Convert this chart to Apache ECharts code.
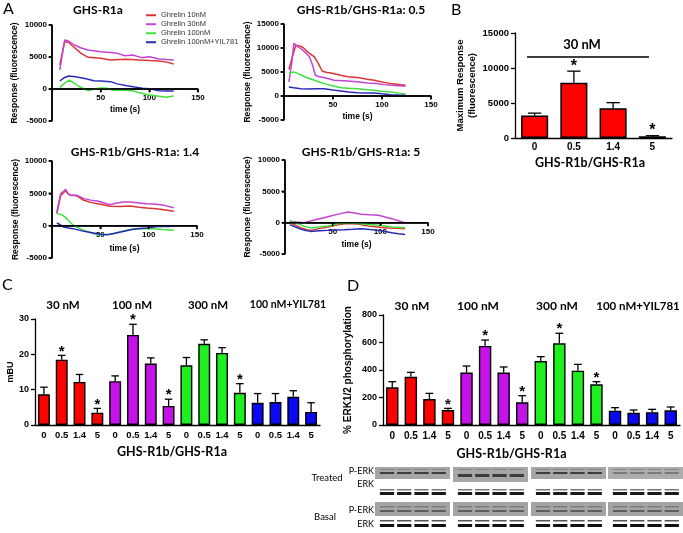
<!DOCTYPE html>
<html><head><meta charset="utf-8">
<script src="https://cdn.jsdelivr.net/npm/echarts@6/dist/echarts.min.js"></script>
<style>html,body{margin:0;padding:0;background:#fff}#c{width:683px;height:533px}</style>
</head><body><div id="c"></div>
<script>
// ---------- Panel A: time courses [time (s), response] ----------
const lineNames = ['Ghrelin 10nM','Ghrelin 30nM','Ghrelin 100nM','Ghrelin 100nM+YIL781'];
const panelTitles = ['GHS-R1a','GHS-R1b/GHS-R1a: 0.5','GHS-R1b/GHS-R1a: 1.4','GHS-R1b/GHS-R1a: 5'];
const timeTicks = [0,50,100,150];
const aYTicks = [[-5000,0,5000,10000],[-5000,0,5000,10000,15000],[-5000,0,5000,10000],[-5000,0,5000,10000]];

const a1Red = [[8,3750],[13,7400],[17,7300],[22,6600],[30,5570],[37,4950],[50,4800],[60,4530],[70,4600],[77,4640],[90,4530],[100,4450],[107,4430],[118,4200],[125,3900]];
const a1Mag = [[8,2970],[13,7650],[17,7500],[23,6875],[30,6400],[37,6100],[50,5830],[60,5700],[67,5570],[75,5200],[83,5300],[92,4900],[100,5050],[110,4700],[118,4600],[125,4530]];
const a1Grn = [[8,260],[13,900],[18,1400],[22,1000],[27,470],[32,100],[37,-260],[42,-100],[47,100],[52,150],[57,100],[62,-200],[67,-150],[75,-200],[83,-260],[90,-600],[100,-940],[108,-1100],[117,-1300],[125,-1100]];
const a1Blu = [[8,1250],[13,1800],[17,2030],[22,1950],[27,1820],[35,1600],[43,1300],[50,1250],[60,1150],[67,800],[77,520],[85,300],[93,100],[100,50],[110,-260],[118,-300],[125,-310]];

const a2Red = [[5,5510],[9,8500],[12,10600],[17,10390],[20,10000],[24,9200],[31,8160],[35,6800],[39,5160],[44,4900],[48,4810],[58,4320],[65,4000],[75,3840],[85,3500],[92,3280],[100,2900],[109,2580],[117,2400],[124,2230]];
const a2Mag = [[5,2930],[8,7000],[10,10950],[14,10300],[17,9900],[22,9000],[26,8160],[29,6500],[32,4320],[36,4000],[41,3840],[51,3280],[60,3200],[68,3070],[77,2900],[85,2720],[94,2600],[102,2370],[113,2200],[124,2020]];
const a2Grn = [[5,4670],[10,5020],[15,4600],[20,4110],[25,3700],[31,3280],[36,2900],[41,2580],[50,2100],[58,1740],[66,1600],[75,1530],[85,1300],[92,1190],[100,1000],[109,840],[117,600],[124,350]];
const a2Blu = [[5,1880],[10,1700],[17,1530],[25,1450],[33,1500],[41,1530],[50,1250],[58,1050],[66,850],[75,700],[85,650],[92,630],[100,450],[109,280],[117,200],[124,140]];

const a3Red = [[5,1860],[9,4690],[12,5100],[14,5460],[16,5000],[19,4690],[23,4650],[26,4590],[30,4200],[33,3920],[40,3600],[47,3400],[54,3200],[60,2990],[70,2950],[81,3040],[90,2850],[98,2730],[108,2600],[116,2470],[126,2220]];
const a3Mag = [[5,2110],[9,4950],[12,5300],[14,5620],[16,5100],[19,4690],[26,4690],[33,4180],[40,3950],[47,3810],[54,3500],[60,3250],[67,3500],[74,3660],[81,3650],[88,3560],[98,3400],[108,3300],[116,3140],[126,2780]];
const a3Grn = [[5,1860],[10,1700],[13,1400],[16,980],[19,500],[22,50],[27,-300],[33,-720],[40,-1100],[47,-1390],[54,-1350],[60,-1340],[67,-1100],[74,-820],[81,-600],[88,-460],[98,-450],[105,-460],[115,-600],[126,-720]];
const a3Blu = [[5,410],[9,100],[12,-210],[17,-350],[22,-460],[27,-650],[33,-880],[40,-1050],[47,-1240],[52,-1350],[57,-1390],[64,-1200],[71,-980],[78,-750],[84,-570],[91,-450],[98,-360],[105,-200],[112,-100],[120,-120],[126,-100]];

const a4Red = [[5,0],[11,-400],[17,-860],[22,-1100],[27,-1230],[36,-950],[45,-700],[53,-400],[62,-160],[69,-180],[76,-210],[83,-400],[90,-590],[99,-750],[108,-860],[117,-900],[126,-960]];
const a4Mag = [[5,210],[12,100],[20,0],[27,250],[34,530],[41,800],[48,1070],[57,1400],[66,1710],[73,1550],[80,1340],[89,1250],[98,1180],[105,900],[112,640],[119,300],[126,0]];
const a4Grn = [[5,320],[13,-160],[20,-550],[27,-860],[36,-700],[45,-530],[53,-250],[62,0],[71,-80],[80,-160],[89,-300],[98,-430],[105,-550],[112,-700],[126,-800]];
const a4Blu = [[5,-320],[11,-700],[17,-1070],[22,-1250],[27,-1390],[36,-1300],[45,-1230],[53,-1170],[62,-1120],[71,-1050],[80,-960],[89,-1100],[98,-1230],[105,-1400],[112,-1600],[119,-1750],[126,-1870]];

// ---------- Panel B ----------
const bCats = ['0','0.5','1.4','5'];
const bVals = [3200, 7900, 4250, 250];
const bErr  = [350, 1650, 800, 80];
const bSig  = [0, 1, 0, 1];

// ---------- Panels C and D ----------
const groups = ['30 nM','100 nM','300 nM','100 nM+YIL781'];
const ratios = ['0','0.5','1.4','5'];
const cVals = [8.7,18.5,12.2,3.5, 12.4,25.5,17.4,5.4, 16.9,23.0,20.4,9.1, 6.3,6.5,8.0,3.7];
const cErr  = [2.0,1.2,2.1,1.2, 1.5,3.0,1.6,1.9, 2.2,1.1,1.5,2.6, 2.6,2.4,1.7,2.6];
const cSig  = [0,1,0,1, 0,1,0,1, 0,0,0,1, 0,0,0,0];
const dVals = [274,351,189,109, 381,575,381,165, 465,594,395,296, 104,89,93,107];
const dErr  = [41,32,41,12, 48,43,41,48, 32,73,46,19, 22,20,21,24];
const dSig  = [0,0,0,1, 0,1,0,1, 0,1,0,1, 0,0,0,0];

// ---------- styles ----------
const lineColors = ['#dc3434','#c444d0','#3ee03e','#2a2ab8'];
const groupColors = ['#ff0000','#c412e8','#1fee1f','#0a0af0'];
const AR = 'Arial, "Liberation Sans", sans-serif';
const LT = 'Lato, "Open Sans", sans-serif';
const plain = v => String(v);

const chart = echarts.init(document.getElementById('c'), null, {renderer:'canvas'});

const gridsPx = [
  {left:52, top:25, width:146, height:96},
  {left:284, top:24, width:147, height:96},
  {left:52, top:161, width:145, height:97},
  {left:285, top:160, width:143, height:94},
  {left:515, top:33, width:157, height:105},
  {left:35, top:319, width:285, height:106},
  {left:383, top:315, width:297, height:110}
];
const grid = gridsPx.map(g => Object.assign({outerBoundsMode:'none', containLabel:false}, g));

const xAxis = [], yAxis = [], series = [];
const panelsA = [[a1Red,a1Mag,a1Grn,a1Blu],[a2Red,a2Mag,a2Grn,a2Blu],[a3Red,a3Mag,a3Grn,a3Blu],[a4Red,a4Mag,a4Grn,a4Blu]];
const yGapA = [33,32,32,33], xGapA = [16,16,18,17];

for (let p = 0; p < 4; p++) {
  const yt = aYTicks[p];
  const yMin = yt[0], yMax = yt[yt.length - 1];
  const tMin = timeTicks[0], tMax = timeTicks[timeTicks.length - 1];
  const zeroOffset = -gridsPx[p].height * (0 - yMin) / (yMax - yMin);
  xAxis.push({type:'value', gridIndex:p, position:'bottom', offset:zeroOffset,
    min:tMin, max:tMax, interval:50,
    axisLine:{show:true, onZero:false, lineStyle:{color:'#000', width:1.5}},
    axisTick:{show:true, length:3, lineStyle:{color:'#000', width:1.5}}, splitLine:{show:false},
    axisLabel:{margin:5, color:'#000', fontSize:8, fontWeight:'bold', fontFamily:AR, formatter:v => v === 0 ? '' : String(v)},
    name:'time (s)', nameLocation:'middle', nameGap:xGapA[p],
    nameTextStyle:{color:'#000', fontSize:8.5, fontWeight:'bold', fontFamily:AR}});
  yAxis.push({type:'value', gridIndex:p, min:yMin, max:yMax, interval:5000,
    axisLine:{show:true, onZero:false, lineStyle:{color:'#000', width:1.5}},
    axisTick:{show:true, length:3, lineStyle:{color:'#000', width:1.5}}, splitLine:{show:false},
    axisLabel:{margin:5, color:'#000', fontSize:8, fontWeight:'bold', fontFamily:AR, formatter:plain},
    name:'Response (fluorescence)', nameLocation:'middle', nameGap:yGapA[p], nameRotate:90,
    nameTextStyle:{color:'#000', fontSize:8.5, fontWeight:'bold', fontFamily:AR}});
  series.push({type:'line', xAxisIndex:p, yAxisIndex:p, data:[[tMin, yMax],[tMin, yMin]],
    showSymbol:false, symbol:'none', lineStyle:{color:'#000', width:1.5}, z:4, animation:false, silent:true, clip:false});
  series.push({type:'line', xAxisIndex:p, yAxisIndex:p, data:[[tMin, 0],[tMax, 0]],
    showSymbol:false, symbol:'none', lineStyle:{color:'#000', width:1.5}, z:4, animation:false, silent:true, clip:false});
  panelsA[p].forEach((d, k) => {
    series.push({type:'line', name:lineNames[k], xAxisIndex:p, yAxisIndex:p, data:d,
      showSymbol:false, symbol:'none', lineStyle:{color:lineColors[k], width:1.5}, itemStyle:{color:lineColors[k]},
      z:3, animation:false, silent:true});
  });
}

function errBars(capFrac, starSize, starGap) {
  return function (params, api) {
    const i = api.value(0), v = api.value(1), e = api.value(2), s = api.value(3);
    const p0 = api.coord([i, v]), p1 = api.coord([i, v + e]);
    const half = api.size([1, 0])[0] * capFrac / 2;
    const ch = [
      {type:'line', shape:{x1:p0[0], y1:p0[1], x2:p1[0], y2:p1[1]}, style:{stroke:'#000', lineWidth:1.3}},
      {type:'line', shape:{x1:p1[0]-half, y1:p1[1], x2:p1[0]+half, y2:p1[1]}, style:{stroke:'#000', lineWidth:1.3}}
    ];
    if (s) ch.push({type:'text', style:{text:'*', x:p1[0], y:p1[1]-starGap, align:'center', verticalAlign:'middle',
      font:'bold ' + starSize + 'px Arial', fill:'#000'}});
    return {type:'group', children:ch};
  };
}

// Panel B
xAxis.push({type:'category', gridIndex:4, data:bCats,
  axisLine:{show:true, lineStyle:{color:'#000', width:1.3}}, axisTick:{show:false},
  axisLabel:{margin:4, color:'#000', fontSize:10, fontWeight:'bold', fontFamily:AR},
  name:'GHS-R1b/GHS-R1a', nameLocation:'middle', nameGap:18,
  nameTextStyle:{color:'#000', fontSize:12.5, fontWeight:'bold', fontFamily:LT, padding:[0,7,0,0]}});
yAxis.push({type:'value', gridIndex:4, min:0, max:15000, interval:5000,
  axisLine:{show:true, lineStyle:{color:'#000', width:1.3}}, axisTick:{show:true, length:4, lineStyle:{color:'#000', width:1.3}},
  splitLine:{show:false},
  axisLabel:{margin:6, color:'#000', fontSize:9.5, fontWeight:'bold', fontFamily:AR, formatter:plain},
  name:'Maximum Response\n(fluorescence)', nameLocation:'middle', nameGap:35, nameRotate:90,
  nameTextStyle:{color:'#000', fontSize:9.5, fontWeight:'bold', fontFamily:AR, lineHeight:12}});
series.push({type:'bar', xAxisIndex:4, yAxisIndex:4, barWidth:'69%', data:bVals,
  itemStyle:{color:groupColors[0], borderColor:'#000', borderWidth:1.5}, animation:false, silent:true, z:2});
series.push({type:'custom', xAxisIndex:4, yAxisIndex:4, renderItem:errBars(0.34, 16, 5),
  data:bVals.map((v,i)=>[i, v, bErr[i], bSig[i]]), encode:{x:0, y:1}, z:5, animation:false, silent:true});

// Panels C and D
const catCD = [];
groups.forEach(g => ratios.forEach(r => catCD.push(g + ' | ' + r)));
function barPanel(gi, vals, errs, sig, yMax, yInt, yName, yGap, yFont, xFont, xMargin, xNameGap, namePad) {
  xAxis.push({type:'category', gridIndex:gi, data:catCD,
    axisLine:{show:true, lineStyle:{color:'#000', width:1.3}}, axisTick:{show:false},
    axisLabel:{interval:0, margin:xMargin, color:'#000', fontSize:xFont, fontWeight:'bold', fontFamily:AR,
      formatter:(v, idx) => ratios[idx % 4]},
    name:'GHS-R1b/GHS-R1a', nameLocation:'middle', nameGap:xNameGap,
    nameTextStyle:{color:'#000', fontSize:12.5, fontWeight:'bold', fontFamily:LT, padding:[0,namePad,0,0]}});
  yAxis.push({type:'value', gridIndex:gi, min:0, max:yMax, interval:yInt,
    axisLine:{show:true, lineStyle:{color:'#000', width:1.3}}, axisTick:{show:true, length:4, lineStyle:{color:'#000', width:1.3}},
    splitLine:{show:false},
    axisLabel:{margin:6, color:'#000', fontSize:9, fontWeight:'bold', fontFamily:AR, formatter:plain},
    name:yName, nameLocation:'middle', nameGap:yGap, nameRotate:90,
    nameTextStyle:{color:'#000', fontSize:yFont, fontWeight:'bold', fontFamily:AR}});
  series.push({type:'bar', xAxisIndex:gi, yAxisIndex:gi, barWidth:'67%',
    data:vals.map((v,i)=>({value:v, itemStyle:{color:groupColors[Math.floor(i/4)]}})),
    itemStyle:{borderColor:'#000', borderWidth:1.4}, animation:false, silent:true, z:2});
  series.push({type:'custom', xAxisIndex:gi, yAxisIndex:gi, renderItem:errBars(0.42, 15, 4),
    data:vals.map((v,i)=>[i, v, errs[i], sig[i]]), encode:{x:0, y:1}, z:5, animation:false, silent:true});
}
barPanel(5, cVals, cErr, cSig, 30, 10, 'mBU', 13, 9, 9.5, 5, 20, 11);
barPanel(6, dVals, dErr, dSig, 800, 200, '% ERK1/2 phosphorylation', 30, 10, 10, 6, 22, 40);

// ---------- graphic texts and blots ----------
const graphic = [];
function txt(t, x, y, font, align) {
  graphic.push({type:'text', x:x, y:y, silent:true,
    style:{text:t, font:font, fill:'#000', align:align || 'center', verticalAlign:'middle'}});
}
txt('A', 3, 9, '16px ' + LT, 'left');
txt('B', 451, 10, '16px ' + LT, 'left');
txt('C', 2, 285, '16px ' + LT, 'left');
txt('D', 347, 286, '16px ' + LT, 'left');
const titlePos = [[98,10],[361,10],[135,152],[361,152]];
panelTitles.forEach((t,i) => txt(t, titlePos[i][0], titlePos[i][1], 'bold 12px ' + LT));
txt('30 nM', 582, 45, 'bold 13px ' + LT);
graphic.push({type:'line', silent:true, shape:{x1:527, y1:57, x2:649, y2:57}, style:{stroke:'#000', lineWidth:1.3}});
const cGroupX = [63,132,208,288], dGroupX = [412,478,557,638];
const cGroupFont = [11.5,11.5,11.5,10.5], dGroupFont = [12,12,12,11.5];
groups.forEach((g,i) => {
  txt(g, cGroupX[i], 305, 'bold ' + cGroupFont[i] + 'px ' + LT);
  txt(g, dGroupX[i], 306, 'bold ' + dGroupFont[i] + 'px ' + LT);
});

txt('Treated', 327, 478, '9.5px ' + LT);
txt('Basal', 325, 517, '9.5px ' + LT);
txt('P-ERK', 374, 471, '9px ' + LT, 'right');
txt('ERK', 374, 484, '9px ' + LT, 'right');
txt('P-ERK', 374, 510, '9px ' + LT, 'right');
txt('ERK', 374, 524, '9px ' + LT, 'right');

const blocks = [[375,450],[453,528],[531,606],[608,683]];
blocks.forEach((b, bi) => {
  const w = b[1] - b[0];
  const lanes = [0.16, 0.39, 0.62, 0.85].map(f => b[0] + f * w);
  const lw = w * 0.19;
  graphic.push({type:'rect', silent:true, shape:{x:b[0], y:467, width:w, height: bi === 1 ? 15 : 12}, style:{fill: bi === 3 ? '#adadad' : '#a6a6a6'}});
  lanes.forEach((lx) => {
    graphic.push({type:'rect', silent:true, shape:{x:lx-lw/2, y: bi === 1 ? 474 : 472, width:lw, height: bi === 1 ? 3 : 2}, style:{fill: bi === 3 ? '#7a7a7a' : '#3c3c3c'}});
    graphic.push({type:'rect', silent:true, shape:{x:lx-lw/2, y:469, width:lw, height:1}, style:{fill:'#858585'}});
    graphic.push({type:'rect', silent:true, shape:{x:lx-lw/2, y:489, width:lw, height:1.5}, style:{fill:'#777'}});
    graphic.push({type:'rect', silent:true, shape:{x:lx-lw/2, y:492, width:lw, height:3}, style:{fill:'#1a1a1a'}});
    graphic.push({type:'rect', silent:true, shape:{x:lx-lw/2, y:520, width:lw, height:1.5}, style:{fill:'#555'}});
    graphic.push({type:'rect', silent:true, shape:{x:lx-lw/2, y:524, width:lw, height:3}, style:{fill:'#111'}});
  });
  graphic.push({type:'rect', silent:true, shape:{x:b[0], y:502, width:w, height:14}, style:{fill:'#a4a4a4'}});
  lanes.forEach(lx => {
    graphic.push({type:'rect', silent:true, shape:{x:lx-lw/2, y:506, width:lw, height:1.5}, style:{fill:'#7c7c7c'}});
    graphic.push({type:'rect', silent:true, shape:{x:lx-lw/2, y:510, width:lw, height:2}, style:{fill:'#5e5e5e'}});
  });
});

chart.setOption({
  animation:false,
  backgroundColor:'#fff',
  grid:grid, xAxis:xAxis, yAxis:yAxis, series:series, graphic:graphic,
  legend:{data:lineNames, left:146, top:11, orient:'vertical', itemWidth:10, itemHeight:2, itemGap:0.5,
    icon:'rect', padding:0, selectedMode:false,
    textStyle:{fontSize:7.5, lineHeight:8.5, fontFamily:AR, color:'#333'}}
});

const tickGraphics = [];
for (let p = 0; p < 4; p++) {
  const yt = aYTicks[p];
  const tMin = timeTicks[0];
  const f = {xAxisIndex:p, yAxisIndex:p};
  yt.forEach(v => { const c = chart.convertToPixel(f, [tMin, v]);
    if (c && isFinite(c[0]) && isFinite(c[1]))
      tickGraphics.push({type:'rect', silent:true, z:100, shape:{x:c[0]-3.5, y:c[1]-0.75, width:3.5, height:1.5}, style:{fill:'#000'}}); });
  timeTicks.forEach(v => { if (v === tMin) return; const c = chart.convertToPixel(f, [v, 0]);
    if (c && isFinite(c[0]) && isFinite(c[1]))
      tickGraphics.push({type:'rect', silent:true, z:100, shape:{x:c[0]-0.75, y:c[1], width:1.5, height:3.5}, style:{fill:'#000'}}); });
}
chart.setOption({graphic: graphic.concat(tickGraphics)});
</script></body></html>
